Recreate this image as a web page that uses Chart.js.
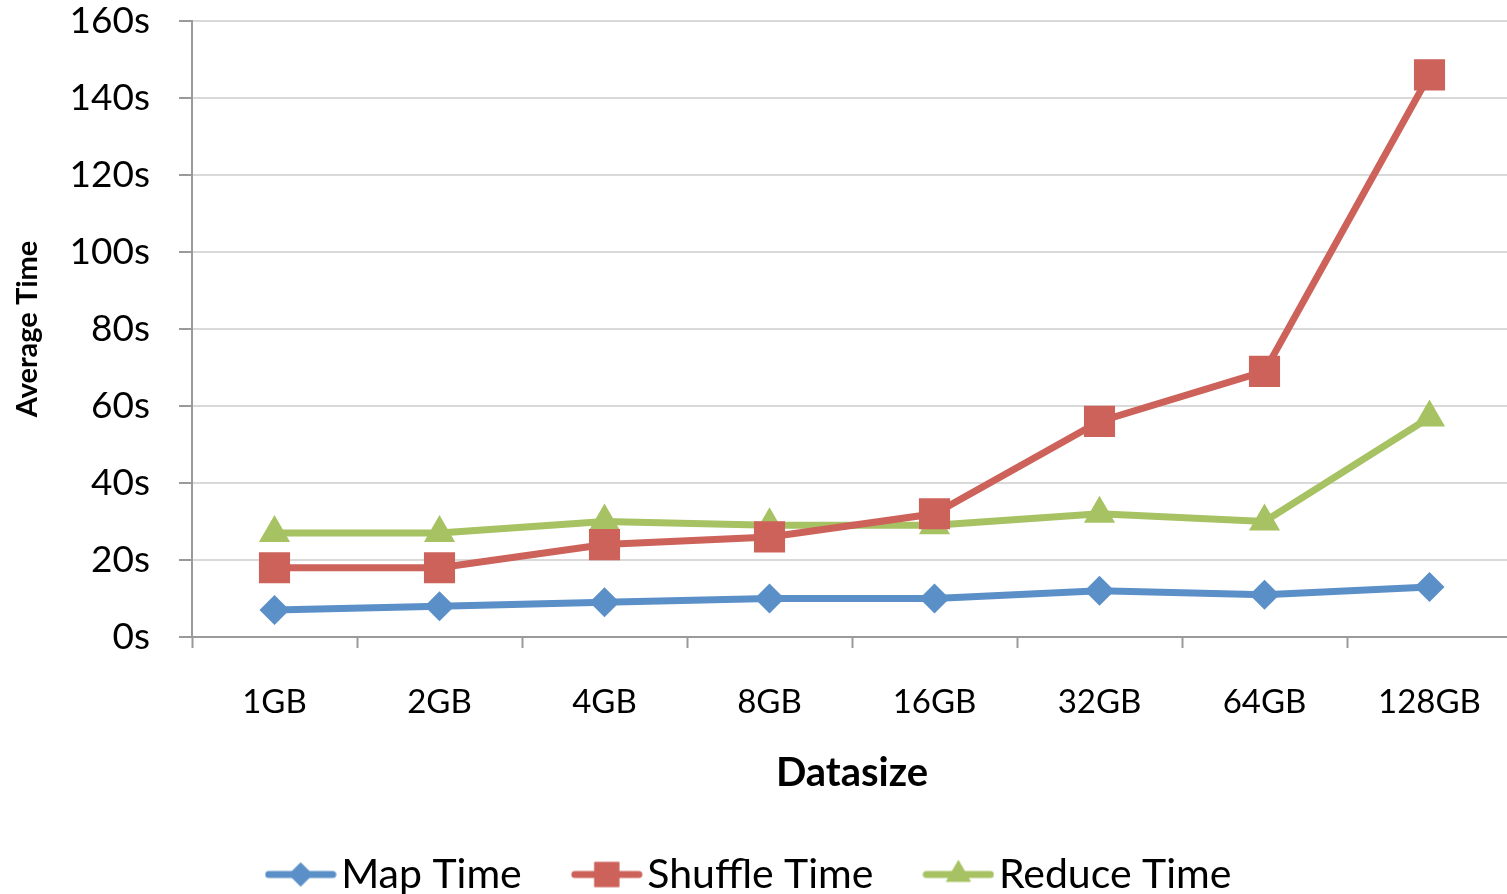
<!DOCTYPE html>
<html>
<head>
<meta charset="utf-8">
<script src="https://cdn.jsdelivr.net/npm/chart.js@4/dist/chart.umd.min.js"></script>
<style>
  html, body { margin: 0; padding: 0; background: #fff; overflow: hidden; }
  canvas { display: block; }
</style>
</head>
<body>
<canvas id="c" width="1512" height="905"></canvas>
<script>
const categories = ['1GB', '2GB', '4GB', '8GB', '16GB', '32GB', '64GB', '128GB'];
const mapTime = [7, 8, 9, 10, 10, 12, 11, 13];
const shuffleTime = [18, 18, 24, 26, 32, 56, 69, 146];
const reduceTime = [27, 27, 30, 29, 29, 32, 30, 57];
const yTickLabels = ['0s', '20s', '40s', '60s', '80s', '100s', '120s', '140s', '160s'];

const font = "Lato, 'Open Sans', sans-serif";
const blue = '#5b8fc8', red = '#cd625a', green = '#a6c263';
const axisGray = '#9a9a9a', gridGray = '#d9d9d9';

const series = [
  { label: 'Map Time', data: mapTime, color: blue, style: 'rectRot', r: 15 },
  { label: 'Shuffle Time', data: shuffleTime, color: red, style: 'rect', r: 22 },
  { label: 'Reduce Time', data: reduceTime, color: green, style: 'triangle', r: 18 },
];

// legend sample: short line with the marker on it
function makeSample(s) {
  const cv = document.createElement('canvas');
  cv.width = 72; cv.height = 34;
  const ctx = cv.getContext('2d');
  ctx.strokeStyle = s.color; ctx.lineWidth = 7; ctx.lineCap = 'round';
  ctx.beginPath(); ctx.moveTo(4, 17); ctx.lineTo(68, 17); ctx.stroke();
  ctx.fillStyle = s.color;
  Chart.helpers.drawPoint(ctx, { pointStyle: s.style, radius: s.r * 0.8, borderWidth: 0, rotation: 0 }, 36, 17);
  ctx.fill();
  return cv;
}
const samples = series.map(makeSample);

new Chart(document.getElementById('c'), {
  type: 'line',
  data: {
    labels: categories,
    datasets: series.map(s => ({
      label: s.label,
      data: s.data,
      borderColor: s.color,
      backgroundColor: s.color,
      borderWidth: 7,
      tension: 0,
      pointStyle: s.style,
      pointRadius: s.r,
      pointBorderWidth: 0,
      pointBackgroundColor: s.color,
      clip: false,
    }))
  },
  options: {
    responsive: false, animation: false,
    layout: { padding: 0, autoPadding: false },
    plugins: {
      tooltip: { enabled: false },
      legend: {
        position: 'bottom',
        labels: {
          usePointStyle: true, pointStyleWidth: 40, padding: 65,
          color: '#000', font: { family: font, size: 41 },
          generateLabels: chart => chart.data.datasets.map((d, i) => ({
            text: d.label, pointStyle: samples[i], datasetIndex: i,
            fillStyle: d.borderColor, strokeStyle: d.borderColor, lineWidth: 0,
            hidden: false, fontColor: '#000'
          }))
        }
      }
    },
    scales: {
      x: {
        offset: true,
        grid: { drawOnChartArea: false, offset: true, tickLength: 11, tickColor: axisGray, tickWidth: 2 },
        border: { color: axisGray, width: 2 },
        ticks: { color: '#000', padding: 35, font: { family: font, size: 33 }, maxRotation: 0 },
        title: { display: true, text: 'Datasize', color: '#000', font: { family: font, size: 40, weight: 'bold' }, padding: { top: 0, bottom: -8 } },
        afterFit: s => { s.height = 152; s.paddingLeft = 0; s.paddingRight = 0; }
      },
      y: {
        min: 0, max: 160,
        grid: { color: gridGray, lineWidth: 2, tickLength: 13, tickColor: axisGray, tickWidth: 2 },
        border: { color: axisGray, width: 2 },
        ticks: {
          stepSize: 20, padding: 29, color: '#000', font: { family: font, size: 37 },
          callback: (v, i) => yTickLabels[i]
        },
        title: { display: true, text: 'Average Time', color: '#000', font: { family: font, size: 29, weight: 'bold' }, padding: { top: 10, bottom: 0 } },
        afterFit: s => { s.width = 192; s.paddingTop = 21; s.paddingBottom = 0; }
      }
    }
  }
});
</script>
</body>
</html>
